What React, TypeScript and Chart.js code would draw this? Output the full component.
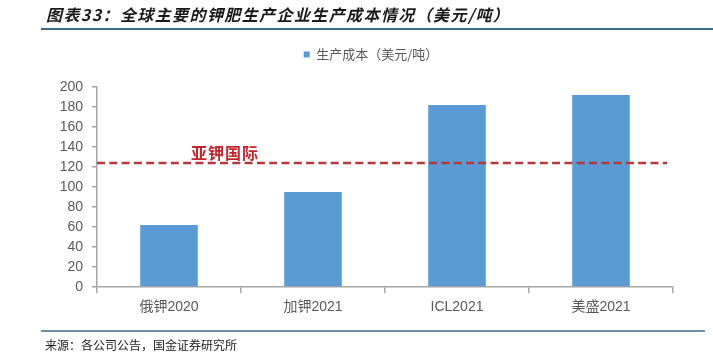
import React, { useEffect, useRef } from "react";
import { Chart, registerables } from "chart.js";

Chart.register(...registerables);

const categories = ["俄钾2020", "加钾2021", "ICL2021", "美盛2021"];
const costValues = [62, 95, 182, 192];
const seriesLabel = "生产成本（美元/吨）";
const referenceValue = 124;
const referenceLabel = "亚钾国际";
const yTicksMax = 200;
const yTickStep = 20;
const titleText = "图表33：全球主要的钾肥生产企业生产成本情况（美元/吨）";
const sourceText = "来源：各公司公告，国金证券研究所";

const W = 713;
const H = 357;

const decorPlugin = {
  id: "decor",
  afterDraw(chart: any) {
    const ctx = chart.ctx;
    const area = chart.chartArea;
    const y = chart.scales.y;
    ctx.save();
    // title
    ctx.fillStyle = "#1a1a1a";
    ctx.font = "italic bold 16px 'Noto Sans CJK SC', sans-serif";
    (ctx as any).letterSpacing = "1.4px";
    ctx.textBaseline = "middle";
    ctx.textAlign = "left";
    ctx.fillText(titleText, 46, 15);
    (ctx as any).letterSpacing = "0px";
    // title rule
    ctx.strokeStyle = "#3a6a8c";
    ctx.lineWidth = 2;
    ctx.beginPath();
    ctx.moveTo(41, 29);
    ctx.lineTo(W, 29);
    ctx.stroke();
    // bottom rule
    ctx.lineWidth = 1.5;
    ctx.beginPath();
    ctx.moveTo(41, 331);
    ctx.lineTo(705, 331);
    ctx.stroke();
    // source
    ctx.fillStyle = "#222";
    ctx.font = "12px 'Noto Sans CJK SC', sans-serif";
    ctx.fillText(sourceText, 45, 345);
    // reference dashed line
    const ry = y.getPixelForValue(referenceValue);
    ctx.strokeStyle = "#b5383b";
    ctx.lineWidth = 2.5;
    ctx.setLineDash([8, 4.3]);
    ctx.beginPath();
    ctx.moveTo(area.left, ry);
    ctx.lineTo(area.right - 6, ry);
    ctx.stroke();
    ctx.setLineDash([]);
    ctx.fillStyle = "#c0282d";
    ctx.font = "bold 16px 'Noto Sans CJK SC', serif";
    ctx.textBaseline = "middle";
    (ctx as any).letterSpacing = "1px";
    ctx.fillText(referenceLabel, 191, ry - 10);
    (ctx as any).letterSpacing = "0px";
    ctx.restore();
  },
};

export default function App() {
  const ref = useRef<HTMLCanvasElement | null>(null);
  useEffect(() => {
    document.body.style.margin = "0";
    const chart = new Chart(ref.current as HTMLCanvasElement, {
      type: "bar",
      data: {
        labels: categories,
        datasets: [
          {
            label: seriesLabel,
            data: costValues,
            backgroundColor: "#5b9bd5",
            barPercentage: 0.8,
            categoryPercentage: 0.5,
          },
        ],
      },
      options: {
        animation: false,
        responsive: false,
        maintainAspectRatio: false,
        layout: { padding: { top: 23, left: 40, right: 11, bottom: 40 } },
        plugins: {
          legend: {
            display: true,
            position: "top",
            labels: {
              boxWidth: 6,
              boxHeight: 6,
              color: "#595959",
              font: { size: 13, family: "'Noto Sans CJK SC', sans-serif" },
              padding: 25,
            },
          },
          tooltip: { enabled: false },
        },
        scales: {
          x: {
            grid: {
              display: true,
              drawOnChartArea: false,
              drawTicks: true,
              tickLength: 6,
              color: "#a6a6a6",
              lineWidth: 1.5,
              offset: true,
            },
            border: { color: "#a6a6a6", width: 1.5 },
            ticks: {
              color: "#595959",
              font: { size: 14, family: "'Liberation Sans', 'Noto Sans CJK SC', sans-serif" },
              padding: 6,
            },
            afterFit(scale: any) {
              scale.height = 30;
            },
          },
          y: {
            min: 0,
            max: yTicksMax,
            ticks: {
              stepSize: yTickStep,
              color: "#595959",
              font: { size: 14, family: "'Liberation Sans', sans-serif" },
              padding: 9,
            },
            grid: {
              display: true,
              drawOnChartArea: false,
              drawTicks: true,
              tickLength: 5,
              color: "#a6a6a6",
              lineWidth: 1.5,
            },
            border: { color: "#a6a6a6", width: 1.5 },
            afterFit(scale: any) {
              scale.width = 57;
            },
          },
          spacer: {
            type: "linear",
            position: "right",
            display: true,
            grid: { display: false },
            border: { display: false },
            ticks: { display: false },
            afterFit(scale: any) {
              scale.width = 29;
            },
          },
          spacerTop: {
            type: "linear",
            axis: "x",
            position: "top",
            display: true,
            grid: { display: false },
            border: { display: false },
            ticks: { display: false },
            afterFit(scale: any) {
              scale.height = 16;
            },
          },
        },
      },
      plugins: [decorPlugin],
    });
    return () => chart.destroy();
  }, []);
  return (
    <div style={{ position: "absolute", left: 0, top: 0, width: W, height: H, background: "#fff" }}>
      <canvas ref={ref} width={W} height={H} style={{ width: W, height: H, display: "block" }} />
    </div>
  );
}
